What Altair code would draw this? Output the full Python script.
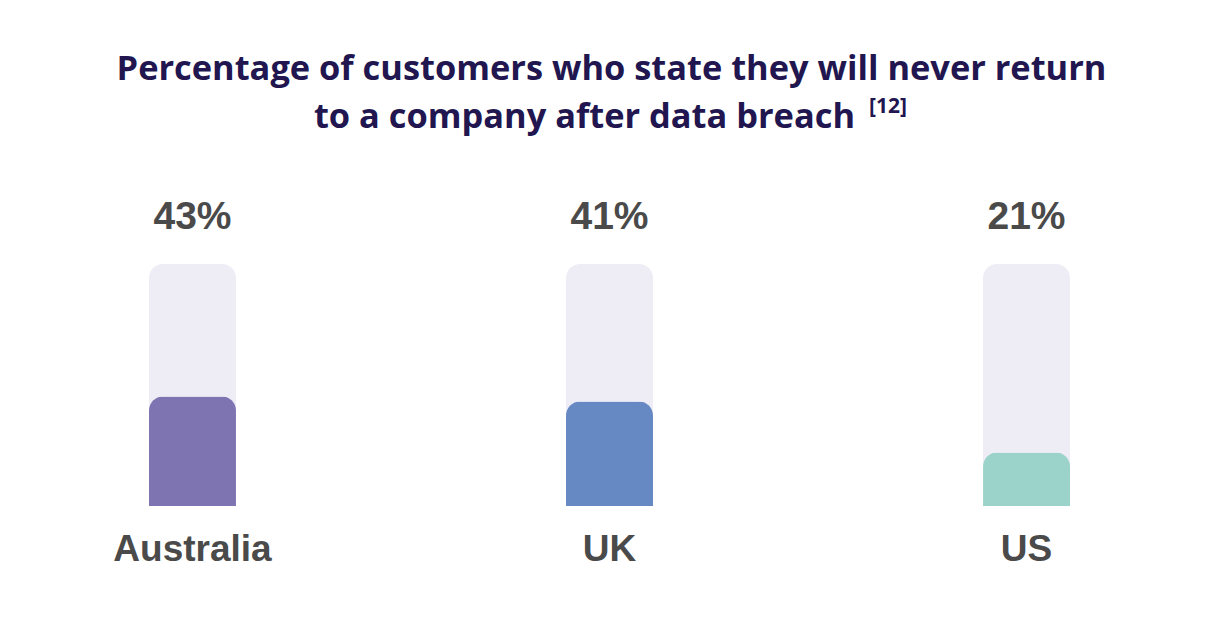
import altair as alt
import pandas as pd

countries = ["Australia", "UK", "US"]
values = [43, 41, 21]
colors = ["#7e74b1", "#6689c3", "#9bd3cb"]
track_value = 95
title_line1 = "Percentage of customers who state they will never return"
title_line2 = "to a company after data breach"
footnote = "[12]"

df = pd.DataFrame({"country": countries, "value": values})

x = alt.X("country:N", sort=countries,
          scale=alt.Scale(paddingInner=0.7914, paddingOuter=0.3381),
          axis=alt.Axis(title=None, labelAngle=0, domain=False, ticks=False, grid=False,
                        labelFont="Liberation Sans", labelFontWeight="bold",
                        labelFontSize=37, labelColor="#4a4a4a", labelPadding=25))
yscale = alt.Scale(domain=[0, 124])

base = alt.Chart(df)

track = base.mark_bar(cornerRadius=14, color="#eeedf6").encode(
    x=x, y=alt.datum(track_value, scale=yscale, axis=None))

bars = base.mark_bar(cornerRadiusTopLeft=14, cornerRadiusTopRight=14).encode(
    x=x,
    y=alt.Y("value:Q", scale=yscale, axis=None),
    color=alt.Color("country:N", scale=alt.Scale(domain=countries, range=colors), legend=None),
)

labels = base.transform_calculate(lbl="datum.value + '%'").mark_text(
    baseline="alphabetic", font="Liberation Sans", fontWeight="bold",
    fontSize=39, color="#4a4a4a").encode(
    x=x, y=alt.datum(108.7, scale=yscale), text="lbl:N")

title_style = dict(baseline="alphabetic", font="Open Sans", fontWeight="bold",
                   fontSize=34.4, color="#21164f")

title1 = alt.Chart(pd.DataFrame({"t": [title_line1]})).mark_text(
    align="center", **title_style).encode(
    x=alt.value(603.5), y=alt.value(-110), text="t:N")

title2 = alt.Chart(pd.DataFrame({"t": [title_line2]})).mark_text(
    align="right", **title_style).encode(
    x=alt.value(847), y=alt.value(-62), text="t:N")

sup = alt.Chart(pd.DataFrame({"t": [footnote]})).mark_text(
    align="left", baseline="alphabetic", font="Open Sans", fontWeight="bold",
    fontSize=21, color="#21164f").encode(
    x=alt.value(861), y=alt.value(-77), text="t:N")

chart = alt.layer(track, bars, labels, title1, title2, sup).properties(
    width=1203, height=316,
    autosize=alt.AutoSizeParams(type="none"),
    padding={"left": 0, "top": 182, "right": 0, "bottom": 90},
).configure(background="white", view=alt.ViewConfig(stroke=None))

chart.save("out.html", embed_options={"renderer": "svg", "actions": False})
